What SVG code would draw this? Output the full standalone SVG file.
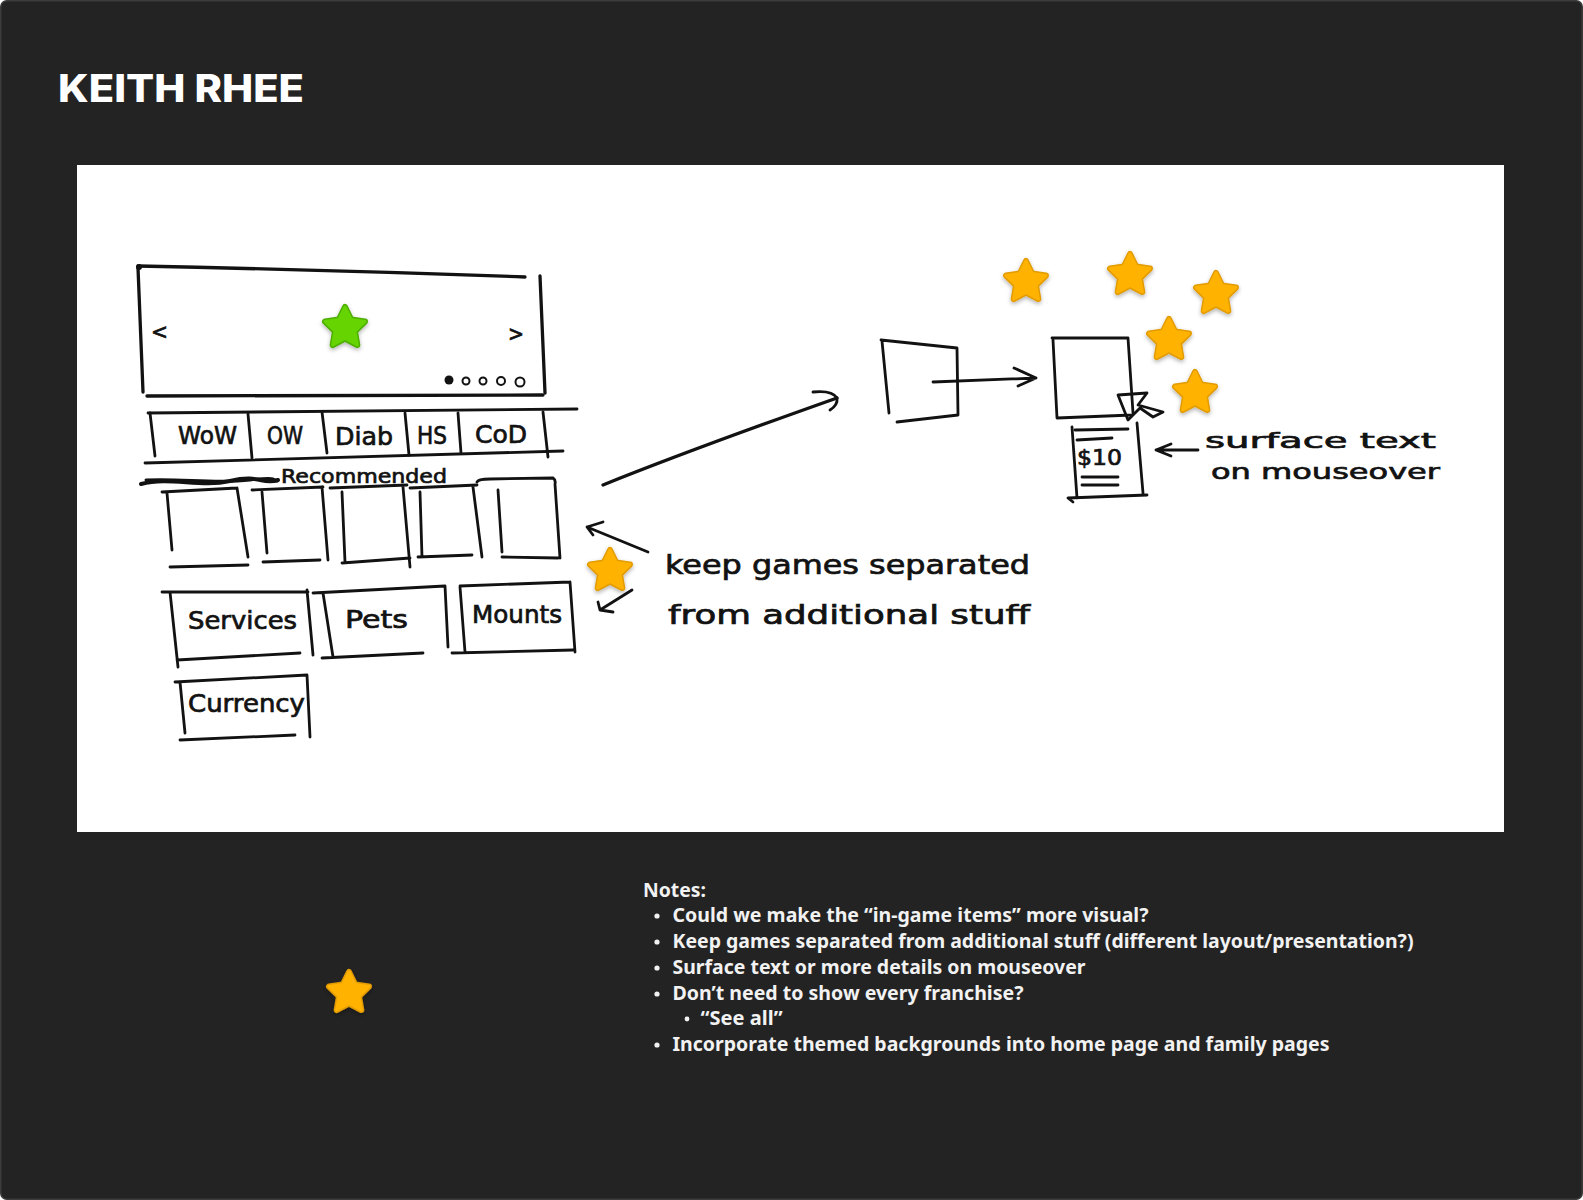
<svg xmlns="http://www.w3.org/2000/svg" width="1583" height="1200" viewBox="0 0 1583 1200">
<defs>
<path id="star" d="M0,-21 L6.17,-8.49 L19.97,-6.49 L9.99,3.24 L12.34,16.99 L0,10.5 L-12.34,16.99 L-9.99,3.24 L-19.97,-6.49 L-6.17,-8.49 Z"/>
<filter id="sh" x="-50%" y="-50%" width="200%" height="200%"><feDropShadow dx="0" dy="2" stdDeviation="2" flood-color="#000" flood-opacity="0.3"/></filter>
</defs>
<style>
.ink{fill:none;stroke:#121212;stroke-width:2.8;stroke-linecap:round;stroke-linejoin:round}
.thick{stroke-width:3.3}
.hw{font-family:"DejaVu Sans","Liberation Sans",sans-serif;fill:#121212;stroke:#121212;stroke-width:0.7}
.note{font-family:"Noto Sans","Open Sans",sans-serif;font-weight:700;font-size:19px;fill:#f2f2f2}
.so{fill:#E29B00;stroke:#E29B00;stroke-width:6;stroke-linejoin:round}
.si{fill:#FFB300;stroke:#FFB300;stroke-width:3;stroke-linejoin:round}
.go{fill:#4DAE00;stroke:#4DAE00;stroke-width:6;stroke-linejoin:round}
.gi{fill:#66D400;stroke:#66D400;stroke-width:3;stroke-linejoin:round}
</style>
<rect x="0.75" y="0.75" width="1581.5" height="1198.5" rx="6" fill="#232323" stroke="#3c3c3c" stroke-width="1.5"/>
<text x="58" y="102" font-family="Inter,'Liberation Sans',sans-serif" font-weight="800" font-size="38" fill="#ffffff" textLength="246" lengthAdjust="spacingAndGlyphs">KEITH RHEE</text>
<rect x="77" y="165" width="1427" height="667" fill="#ffffff"/>

<g id="carousel">
<circle cx="139" cy="267" r="3" fill="#121212"/>
<path class="ink thick" d="M138,266 Q330,270 525,277"/>
<path class="ink thick" d="M138,268 L143,392"/>
<path class="ink thick" d="M540,276 L545,393"/>
<path class="ink thick" d="M147,396 L543,395"/>
<text class="hw" x="151" y="339" font-size="22" textLength="17" lengthAdjust="spacingAndGlyphs">&lt;</text>
<text class="hw" x="508" y="341" font-size="22" textLength="16" lengthAdjust="spacingAndGlyphs">&gt;</text>
<circle cx="449" cy="380" r="4.5" fill="#121212"/>
<circle cx="466" cy="381" r="3.5" class="ink" style="stroke-width:2"/>
<circle cx="483" cy="381" r="3.5" class="ink" style="stroke-width:2"/>
<circle cx="501" cy="381" r="4" class="ink" style="stroke-width:2"/>
<circle cx="520" cy="382" r="4.5" class="ink" style="stroke-width:2"/>
</g>

<g id="tabs">
<path class="ink" d="M148,413 L577,409"/>
<path class="ink" d="M145,463 L563,451"/>
<path class="ink" d="M150,413 L155,456"/>
<path class="ink" d="M248,414 L252,458"/>
<path class="ink" d="M322,412 L327,453"/>
<path class="ink" d="M405,413 L409,455"/>
<path class="ink" d="M458,413 L461,453"/>
<path class="ink" d="M543,412 L548,457"/>
<text class="hw" x="178" y="444" font-size="24" textLength="59" lengthAdjust="spacingAndGlyphs">WoW</text>
<text class="hw" x="267" y="444" font-size="24" textLength="36" lengthAdjust="spacingAndGlyphs">OW</text>
<text class="hw" x="335" y="445" font-size="24" textLength="58" lengthAdjust="spacingAndGlyphs">Diab</text>
<text class="hw" x="417" y="444" font-size="24" textLength="30" lengthAdjust="spacingAndGlyphs">HS</text>
<text class="hw" x="475" y="443" font-size="24" textLength="52" lengthAdjust="spacingAndGlyphs">CoD</text>
</g>

<g id="recommended">
<path class="ink" style="stroke-width:4" d="M141,484 C170,476 200,488 230,481 S262,485 278,480"/>
<path class="ink" style="stroke-width:3" d="M146,480 C180,478 215,484 250,480 S270,482 277,481"/>
<text class="hw" x="281" y="483" font-size="20" textLength="166" lengthAdjust="spacingAndGlyphs">Recommended</text>
<path class="ink" d="M162,492 L237,488 M167,493 L172,550 M237,488 L248,557 M170,567 L248,565"/>
<path class="ink" d="M252,490 L323,487 M262,492 L267,553 M322,487 L328,560 M263,562 L320,560"/>
<path class="ink" d="M330,488 L407,485 M342,492 L345,562 M403,487 L410,567 M342,563 L410,558"/>
<path class="ink" d="M410,488 L477,485 M420,492 L422,557 M473,487 L482,557 M418,557 L472,555"/>
<path class="ink" d="M477,482 Q478,479 490,479 L553,478 Q556,480 555,484 L560,558 M502,557 L558,558 M498,490 L502,552"/>
</g>

<g id="categories">
<path class="ink" d="M162,592 L308,592 M170,592 L178,667 M307,590 L313,655 M177,660 L300,653"/>
<text class="hw" x="188" y="629" font-size="24" textLength="109" lengthAdjust="spacingAndGlyphs">Services</text>
<path class="ink" d="M313,593 L445,586 M323,593 L333,657 M445,586 L448,647 M322,658 L423,653"/>
<text class="hw" x="345" y="628" font-size="24" textLength="63" lengthAdjust="spacingAndGlyphs">Pets</text>
<path class="ink" d="M460,586 L570,582 M460,587 L465,652 M570,582 L575,652 M452,653 L573,650"/>
<text class="hw" x="472" y="623" font-size="24" textLength="90" lengthAdjust="spacingAndGlyphs">Mounts</text>
<path class="ink" d="M175,682 L307,675 M180,682 L185,733 M307,675 L310,737 M180,740 L295,735"/>
<text class="hw" x="188" y="712" font-size="24" textLength="117" lengthAdjust="spacingAndGlyphs">Currency</text>
</g>

<g id="keep-note">
<text class="hw" x="665" y="574" font-size="26" textLength="365" lengthAdjust="spacingAndGlyphs">keep games separated</text>
<text class="hw" x="668" y="624" font-size="26" textLength="362" lengthAdjust="spacingAndGlyphs">from additional stuff</text>
</g>

<g id="hover-sketch">
<path class="ink" d="M881,340 L957,348 M882,341 L889,413 M957,348 L958,415 M897,422 L958,415"/>
<path class="ink" d="M1052,338 L1128,338 M1053,340 L1057,418 M1128,338 L1133,413 M1057,418 L1132,415"/>
<path class="ink" d="M1072,427 L1077,498 M1137,423 L1143,493 M1068,498 L1147,495 M1068,498 L1073,502"/>
<path class="ink" d="M1075,430 L1128,429 M1077,440 L1112,438 M1082,477 L1118,477 M1082,485 L1118,485"/>
<text class="hw" x="1077" y="465" font-size="22" textLength="45" lengthAdjust="spacingAndGlyphs">$10</text>
<path class="ink" d="M1118,395 L1147,393 L1138,405 L1163,412 L1153,417 L1140,408 L1128,420 Z"/>
<text class="hw" x="1205" y="448" font-size="22" textLength="231" lengthAdjust="spacingAndGlyphs">surface text</text>
<text class="hw" x="1211" y="479" font-size="22" textLength="229" lengthAdjust="spacingAndGlyphs">on mouseover</text>
</g>

<g id="connectors">
<path class="ink thick" d="M603,485 Q690,450 837,398"/>
<path class="ink" d="M813,392 Q832,390 837,398 Q838,405 830,410"/>
<path class="ink" d="M648,552 L587,527 M603,522 L587,527 L593,535"/>
<path class="ink" d="M632,590 L600,610 M598,602 L600,610 L613,612"/>
<path class="ink" d="M933,382 L1036,378 M1014,368 L1036,378 L1018,386"/>
<path class="ink" d="M1198,450 L1156,450 M1171,444 L1156,450 L1171,456"/>
</g>

<g id="stars">
<g filter="url(#sh)" transform="translate(345,328)"><use href="#star" class="go"/><use href="#star" class="gi"/></g>
<g filter="url(#sh)" transform="translate(610,571)"><use href="#star" class="so"/><use href="#star" class="si"/></g>
<g filter="url(#sh)" transform="translate(1026,282)"><use href="#star" class="so"/><use href="#star" class="si"/></g>
<g filter="url(#sh)" transform="translate(1130,275)"><use href="#star" class="so"/><use href="#star" class="si"/></g>
<g filter="url(#sh)" transform="translate(1216,294)"><use href="#star" class="so"/><use href="#star" class="si"/></g>
<g filter="url(#sh)" transform="translate(1169,340)"><use href="#star" class="so"/><use href="#star" class="si"/></g>
<g filter="url(#sh)" transform="translate(1195,393)"><use href="#star" class="so"/><use href="#star" class="si"/></g>
<g filter="url(#sh)" transform="translate(349,993)"><use href="#star" class="so"/><use href="#star" class="si"/></g>
</g>

<g id="notes">
<text class="note" x="643" y="897" textLength="63" lengthAdjust="spacingAndGlyphs">Notes:</text>
<circle cx="657" cy="916" r="2.6" fill="#f2f2f2"/>
<text class="note" x="672.5" y="922" textLength="476" lengthAdjust="spacingAndGlyphs">Could we make the “in-game items” more visual?</text>
<circle cx="657" cy="942" r="2.6" fill="#f2f2f2"/>
<text class="note" x="672.5" y="948" textLength="741" lengthAdjust="spacingAndGlyphs">Keep games separated from additional stuff (different layout/presentation?)</text>
<circle cx="657" cy="968" r="2.6" fill="#f2f2f2"/>
<text class="note" x="672.5" y="974" textLength="413" lengthAdjust="spacingAndGlyphs">Surface text or more details on mouseover</text>
<circle cx="657" cy="994" r="2.6" fill="#f2f2f2"/>
<text class="note" x="672.5" y="1000" textLength="351" lengthAdjust="spacingAndGlyphs">Don’t need to show every franchise?</text>
<circle cx="687" cy="1019" r="2.4" fill="#f2f2f2"/>
<text class="note" x="700.6" y="1025" textLength="82" lengthAdjust="spacingAndGlyphs">“See all”</text>
<circle cx="657" cy="1045" r="2.6" fill="#f2f2f2"/>
<text class="note" x="672.5" y="1051" textLength="657" lengthAdjust="spacingAndGlyphs">Incorporate themed backgrounds into home page and family pages</text>
</g>
</svg>
